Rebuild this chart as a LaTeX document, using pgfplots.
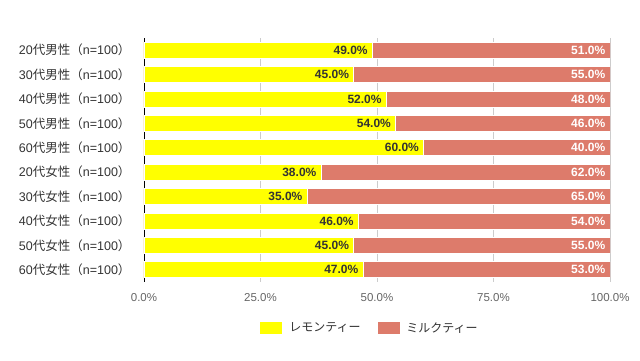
\documentclass[border=0pt]{standalone}
\usepackage{pgfplots}
\pgfplotsset{compat=1.18}
\usepackage{pgfplotstable}
\usepackage{fontspec}
\setmainfont{Liberation Sans}
\newfontfamily\cjk{Noto Sans CJK JP}
\definecolor{lemon}{HTML}{FFFF00}
\definecolor{milk}{HTML}{DD7B6B}
\definecolor{txt}{HTML}{333333}
\definecolor{tick}{HTML}{666666}
\definecolor{gridc}{HTML}{CCCCCC}
\pgfplotstableread{
y lemon milk total
0 49 51 100
1 45 55 100
2 52 48 100
3 54 46 100
4 60 40 100
5 38 62 100
6 35 65 100
7 46 54 100
8 45 55 100
9 47 53 100
}\data
\newcommand{\lab}[2]{#1{\cjk #2（}n=100{\cjk ）}}
\begin{document}
\begin{tikzpicture}
\useasboundingbox (-144pt,-78pt) rectangle (496pt,282pt);
\begin{axis}[
  at={(0,0)}, anchor=south west,
  scale only axis, width=466pt, height=244pt,
  xbar, bar width=16pt, bar shift=0pt,
  xmin=0, xmax=100, ymin=-0.5, ymax=9.5,
  y dir=reverse,
  axis x line*=bottom, axis y line*=left,
  x axis line style={draw=none},
  y axis line style={draw=black, line width=0.8pt},
  xtick={0,25,50,75,100},
  xticklabels={0.0\%,25.0\%,50.0\%,75.0\%,100.0\%},
  xticklabel style={font=\fontsize{11.5}{13}\selectfont, text=tick},
  xmajorgrids, grid style={gridc, line width=0.6pt},
  major tick length=0pt,
  ytick={0,...,9},
  yticklabels={\lab{20}{代男性},\lab{30}{代男性},\lab{40}{代男性},\lab{50}{代男性},\lab{60}{代男性},\lab{20}{代女性},\lab{30}{代女性},\lab{40}{代女性},\lab{50}{代女性},\lab{60}{代女性}},
  yticklabel style={font=\fontsize{12.5}{13}\selectfont, text=txt, xshift=-10pt},
  x tick label style={yshift=-8pt},
  legend style={at={(0.484,-0.189)}, anchor=center, draw=none, legend columns=2,
    font=\cjk\fontsize{12}{13}\selectfont, text=txt,
    /tikz/every even column/.append style={column sep=14pt}},
  legend image code/.code={\fill[#1] (0pt,-6.5pt) rectangle (23pt,6.5pt); \path (27pt,0pt);},
  reverse legend,
  nodes near coords={\pgfmathprintnumber[fixed,fixed zerofill,precision=1,assume math mode=true]{\pgfplotspointmeta}\%},
  point meta=explicit,
  every node near coord/.append style={anchor=east, font=\bfseries\fontsize{12}{13}\selectfont, xshift=-1pt},
]
\addplot[fill=milk, draw=white, line width=0.8pt,
  every node near coord/.append style={text=white}]
  table[x=total, y=y, meta=milk] {\data};
\addlegendentry{ミルクティー}
\addplot[fill=lemon, draw=white, line width=0.8pt,
  every node near coord/.append style={text=txt}]
  table[x=lemon, y=y, meta=lemon] {\data};
\addlegendentry{レモンティー}
\end{axis}
\end{tikzpicture}
\end{document}
